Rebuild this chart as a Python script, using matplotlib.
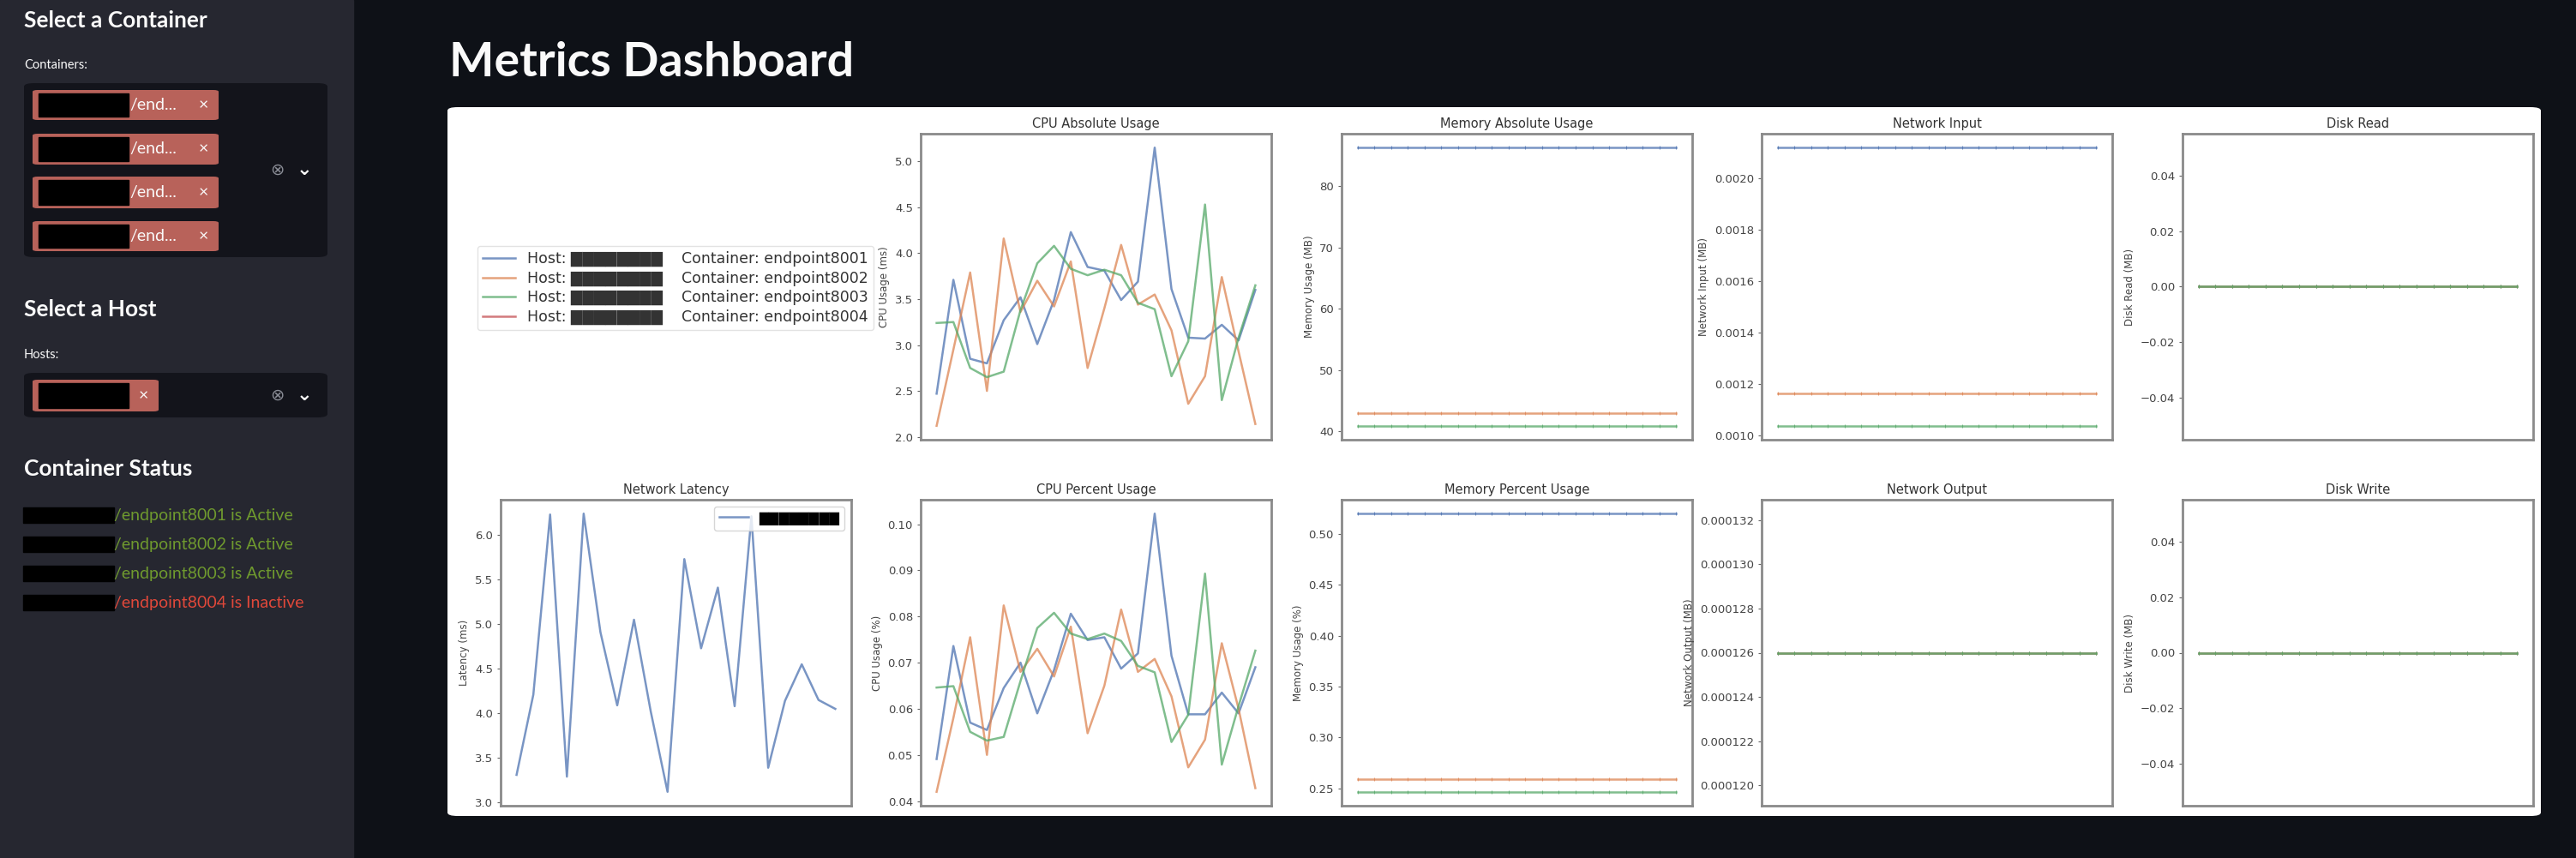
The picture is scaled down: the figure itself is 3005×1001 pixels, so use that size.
import matplotlib
matplotlib.use("Agg")
import matplotlib.pyplot as plt
from matplotlib.patches import FancyBboxPatch, Rectangle

# ---------------- data ----------------
containers = ["endpoint8001", "endpoint8002", "endpoint8003", "endpoint8004"]
status = ["Active", "Active", "Active", "Inactive"]
steps = list(range(20))

cpu_abs_8001 = [2.47, 3.71, 2.85, 2.80, 3.27, 3.52, 3.01, 3.49, 4.23, 3.85, 3.81, 3.49, 3.69, 5.15, 3.61, 3.08, 3.07, 3.22, 3.05, 3.60]
cpu_abs_8002 = [2.12, 2.95, 3.79, 2.50, 4.16, 3.36, 3.70, 3.42, 3.91, 2.75, 3.40, 4.09, 3.44, 3.55, 3.16, 2.36, 2.66, 3.74, 2.93, 2.14]
cpu_abs_8003 = [3.24, 3.25, 2.75, 2.65, 2.71, 3.38, 3.89, 4.08, 3.83, 3.76, 3.82, 3.76, 3.46, 3.39, 2.66, 3.04, 4.53, 2.40, 3.08, 3.65]

cpu_pct_8001 = [0.0491, 0.0736, 0.0570, 0.0554, 0.0645, 0.0700, 0.0590, 0.0684, 0.0806, 0.0749, 0.0755, 0.0687, 0.0720, 0.1023, 0.0715, 0.0588, 0.0588, 0.0635, 0.0590, 0.0690]
cpu_pct_8002 = [0.0420, 0.0580, 0.0755, 0.0500, 0.0824, 0.0680, 0.0730, 0.0670, 0.0778, 0.0547, 0.0650, 0.0815, 0.0680, 0.0708, 0.0627, 0.0473, 0.0533, 0.0742, 0.0600, 0.0428]
cpu_pct_8003 = [0.0646, 0.0649, 0.0550, 0.0531, 0.0539, 0.0660, 0.0775, 0.0808, 0.0763, 0.0751, 0.0763, 0.0747, 0.0693, 0.0679, 0.0528, 0.0587, 0.0893, 0.0479, 0.0606, 0.0726]

latency = [3.31, 4.21, 6.23, 3.29, 6.24, 4.91, 4.09, 5.05, 4.02, 3.12, 5.73, 4.73, 5.41, 4.08, 6.21, 3.39, 4.14, 4.55, 4.15, 4.05]

mem_abs = [86.3, 43.0, 40.9]            # MB, constant per container
mem_pct = [0.520, 0.259, 0.2465]         # %
net_in = [0.00212, 0.001164, 0.001039]   # MB
net_out = [0.000126, 0.000126, 0.000126] # MB
disk_read = [0.0, 0.0, 0.0]
disk_write = [0.0, 0.0, 0.0]

# ---------------- layout ----------------
W, H = 3005, 1001
fig = plt.figure(figsize=(W / 100, H / 100), dpi=100)
fig.patch.set_facecolor("#0e1117")

def fx(x): return x / W
def fy(y): return 1 - y / H

UI = ["Lato", "DejaVu Sans"]
colors = ["#4c72b0", "#dd8452", "#55a868", "#c44e52"]
ALPHA = 0.75

# sidebar
fig.patches.append(Rectangle((0, 0), fx(412), 1, transform=fig.transFigure, color="#262730", zorder=-5))
# card
fig.patches.append(FancyBboxPatch((fx(522), fy(952)), fx(2964 - 522), (952 - 125) / H,
                                  boxstyle="round,pad=0,rounding_size=0.004", transform=fig.transFigure,
                                  facecolor="white", edgecolor="none", zorder=-5))

fig.text(fx(524), fy(89), "Metrics Dashboard", family=UI, weight="bold", fontsize=40, color="#fafafa", va="baseline")

# sidebar contents
def heading(y, s):
    fig.text(fx(28), fy(y), s, family=UI, weight="bold", fontsize=19, color="#fafafa", va="center")

def small(y, s):
    fig.text(fx(28), fy(y), s, family=UI, fontsize=10.5, color="#fafafa", va="center")

def box(y0, y1):
    fig.patches.append(FancyBboxPatch((fx(28), fy(y1)), fx(382 - 28), (y1 - y0) / H,
                                      boxstyle="round,pad=0,rounding_size=0.004", transform=fig.transFigure,
                                      facecolor="#13141b", edgecolor="none", zorder=-4))
    fig.text(fx(323), fy((y0 + y1) / 2), "\u2297", fontsize=14, color="#8a8d96", ha="center", va="center", family=["DejaVu Sans"])
    fig.text(fx(355), fy((y0 + y1) / 2), "\u2304", fontsize=16, color="#fafafa", ha="center", va="center", family=["DejaVu Sans"], weight="bold")

def tag(x1, y0, y1, label):
    fig.patches.append(FancyBboxPatch((fx(38), fy(y1)), fx(x1 - 38), (y1 - y0) / H,
                                      boxstyle="round,pad=0,rounding_size=0.002", transform=fig.transFigure,
                                      facecolor="#b8625a", edgecolor="none", zorder=-3))
    fig.patches.append(Rectangle((fx(45), fy(y1 - 4)), fx(105), (y1 - y0 - 8) / H, transform=fig.transFigure,
                                 color="black", zorder=-2))
    if label:
        fig.text(fx(151), fy((y0 + y1) / 2), label, family=UI, fontsize=14, color="#fafafa", va="center")
    fig.text(fx(x1 - 18), fy((y0 + y1) / 2), "\u00d7", family=UI, fontsize=14, color="#fafafa", va="center", ha="center")

heading(24, "Select a Container")
small(76, "Containers:")
box(97, 300)
for (a, b) in [(105, 140), (156, 192), (206, 243), (258, 293)]:
    tag(255, a, b, "/end...")
heading(361, "Select a Host")
small(414, "Hosts:")
box(435, 487)
tag(185, 443, 480, "")
heading(547, "Container Status")
for i, (c, s) in enumerate(zip(containers, status)):
    y = 601 + 34 * i
    fig.patches.append(Rectangle((fx(27), fy(y + 9)), fx(106), 18 / H, transform=fig.transFigure, color="black", zorder=-2))
    fig.text(fx(133), fy(y), f"/{c} is {s}", family=UI, fontsize=14,
             color="#6f9a2e" if s == "Active" else "#e0483a", va="center")

# ---------------- axes ----------------
lefts = [584, 1074, 1565, 2055, 2546]
aw = 409
def make_ax(col, row):
    ytop = 156 if row == 0 else 583
    ax = fig.add_axes([fx(lefts[col]), fy(ytop + 357), aw / W, 357 / H])
    ax.set_xticks([])
    for sp in ax.spines.values():
        sp.set_color("#8a8a8a"); sp.set_linewidth(2)
    ax.tick_params(axis="y", labelsize=9.5, labelcolor="#444444", color="#666666", length=3)
    return ax

def style(ax, title, ylabel):
    ax.set_title(title, fontsize=10.5, color="#333333", pad=5)
    ax.set_ylabel(ylabel, fontsize=8.5, color="#444444")

# CPU absolute
ax = make_ax(1, 0)
handles = []
for s, c in zip([cpu_abs_8001, cpu_abs_8002, cpu_abs_8003, []], colors):
    ln, = ax.plot(steps[:len(s)], s, color=c, alpha=ALPHA, lw=1.8)
    handles.append(ln)
style(ax, "CPU Absolute Usage", "CPU Usage (ms)")

labels = [f"Host: \u2588\u2588\u2588\u2588\u2588\u2588\u2588\u2588    Container: {n}" for n in containers]
leg = fig.legend(handles, labels, loc="center", bbox_to_anchor=(fx(788), fy(336)), fontsize=12.5,
                 frameon=True, handlelength=2.2, labelspacing=0.25, borderpad=0.35)
for t in leg.get_texts():
    t.set_color("#333333")
leg.get_frame().set_edgecolor("#dddddd")

# CPU percent
ax = make_ax(1, 1)
for s, c in zip([cpu_pct_8001, cpu_pct_8002, cpu_pct_8003], colors):
    ax.plot(steps, s, color=c, alpha=ALPHA, lw=1.8)
style(ax, "CPU Percent Usage", "CPU Usage (%)")

# Latency
ax = make_ax(0, 1)
ax.plot(steps, latency, color=colors[0], alpha=ALPHA, lw=1.8, label="\u2588\u2588\u2588\u2588\u2588\u2588\u2588\u2588")
style(ax, "Network Latency", "Latency (ms)")
lg = ax.legend(loc="upper right", fontsize=11, handlelength=2.2)
for t in lg.get_texts():
    t.set_color("black")

def flat(col, row, vals, title, ylabel):
    ax = make_ax(col, row)
    for v, c in zip(vals, colors):
        ax.plot(steps, [v] * len(steps), color=c, alpha=ALPHA, lw=1.8, marker="|", ms=3, mew=0.8)
    ax.ticklabel_format(axis="y", useOffset=False, style="plain")
    style(ax, title, ylabel)
    return ax

flat(2, 0, mem_abs, "Memory Absolute Usage", "Memory Usage (MB)")
flat(2, 1, mem_pct, "Memory Percent Usage", "Memory Usage (%)")
flat(3, 0, net_in, "Network Input", "Network Input (MB)")
flat(3, 1, net_out, "Network Output", "Network Output (MB)")
flat(4, 0, disk_read, "Disk Read", "Disk Read (MB)")
flat(4, 1, disk_write, "Disk Write", "Disk Write (MB)")

fig.savefig("out.png", dpi=100, facecolor=fig.get_facecolor())
